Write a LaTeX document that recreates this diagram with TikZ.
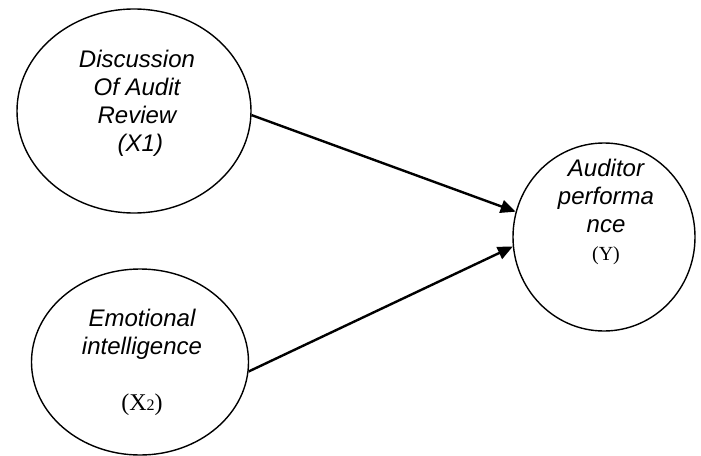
\documentclass[tikz,border=0pt]{standalone}
\usepackage{fontspec}
\setmainfont{Liberation Serif}
\setsansfont{Liberation Sans}
\usetikzlibrary{shapes.geometric, arrows.meta}

\begin{document}
\begin{tikzpicture}[
  x=0.5pt, y=-0.5pt,
  oval/.style={draw, ellipse, line width=0.7pt, inner sep=0pt},
  vtext/.style={align=center, font=\sffamily\itshape\fontsize{12}{14}\selectfont},
  link/.style={line width=1.2pt, -{Triangle[length=7.5pt, width=6.5pt]}}
]
  \useasboundingbox (0,0) rectangle (701,455);

  % variables
  \node[oval, minimum width=117pt, minimum height=102pt] (dar) at (134,111) {};
  \node[oval, minimum width=108.5pt, minimum height=93pt] (ei) at (140,362) {};
  \node[oval, minimum width=91pt, minimum height=94pt] (ap) at (604,237) {};

  \node[vtext] (darText) at (137,103) {Discussion\\Of Audit\\Review\\\ (X1)};
  \node[vtext] (eiText) at (142,362) {Emotional\\intelligence\\[14pt]{\rmfamily\upshape (X{\fontsize{8}{8}\selectfont 2})}};
  \node[vtext] (apText) at (606,212) {Auditor\\performa\\nce\\{\rmfamily\upshape\fontsize{10}{14}\selectfont (Y)}};

  % paths
  \draw[link] (dar.-2) -- (ap.164);
  \draw[link] (ei.-5) -- (ap.186);
\end{tikzpicture}
\end{document}
